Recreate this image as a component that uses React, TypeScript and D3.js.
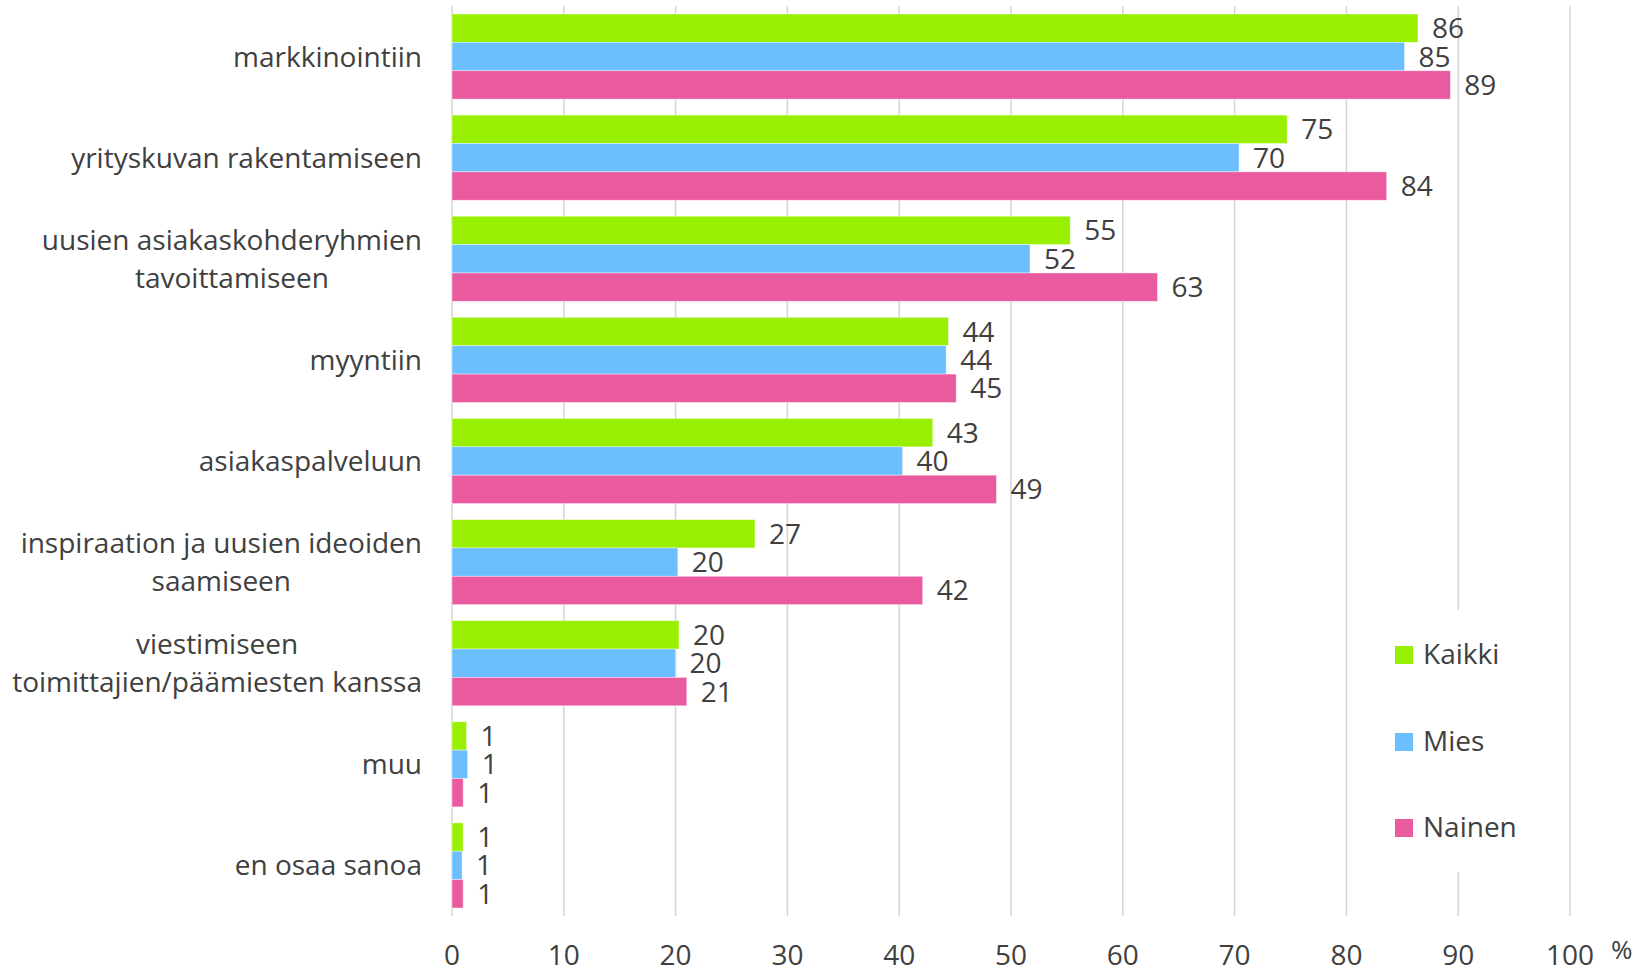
import React, { useEffect, useRef } from 'react';
import * as d3 from 'd3';

const categories = [
  'markkinointiin',
  'yrityskuvan rakentamiseen',
  'uusien asiakaskohderyhmien\ntavoittamiseen',
  'myyntiin',
  'asiakaspalveluun',
  'inspiraation ja uusien ideoiden\nsaamiseen',
  'viestimiseen\ntoimittajien/päämiesten kanssa',
  'muu',
  'en osaa sanoa',
];
const seriesNames = ['Kaikki', 'Mies', 'Nainen'];
const kaikki = [86.4, 74.7, 55.3, 44.4, 43.0, 27.1, 20.3, 1.3, 1.0];
const mies = [85.2, 70.4, 51.7, 44.2, 40.3, 20.2, 20.0, 1.4, 0.9];
const nainen = [89.3, 83.6, 63.1, 45.1, 48.7, 42.1, 21.0, 1.0, 1.0];
const seriesColors = ['#99ef00', '#6bbfff', '#ea5a9f'];
const xTicks = [0, 10, 20, 30, 40, 50, 60, 70, 80, 90, 100];

const W = 1652;
const H = 970;
const FONT = "'Open Sans', 'Noto Sans', sans-serif";
const TEXT = '#404040';

export default function App() {
  const ref = useRef<SVGSVGElement | null>(null);

  useEffect(() => {
    const svg = d3.select(ref.current);
    svg.selectAll('*').remove();

    const values = [kaikki, mies, nainen];
    const x = d3.scaleLinear().domain([0, 100]).range([452, 1570]);
    const y0 = d3.scaleBand<string>().domain(categories).range([6, 916]).padding(0);
    const step = y0.bandwidth();
    const y1 = d3.scaleBand<string>().domain(seriesNames).range([8, step - 8]).padding(0);

    // gridlines
    svg.append('g')
      .selectAll('line')
      .data(xTicks)
      .join('line')
      .attr('x1', (d) => x(d))
      .attr('x2', (d) => x(d))
      .attr('y1', 6)
      .attr('y2', 916)
      .attr('stroke', '#d4d4d4')
      .attr('stroke-width', 1.5);

    // legend background (covers gridline)
    svg.append('rect')
      .attr('x', 1385)
      .attr('y', 610)
      .attr('width', 150)
      .attr('height', 262)
      .attr('fill', '#ffffff');

    // bars
    const groups = svg.append('g')
      .selectAll('g')
      .data(categories)
      .join('g')
      .attr('transform', (d) => `translate(0,${y0(d)})`);

    seriesNames.forEach((s, si) => {
      groups.append('rect')
        .attr('x', x(0))
        .attr('y', y1(s)!)
        .attr('width', (_d, i) => x(values[si][i]) - x(0))
        .attr('height', y1.bandwidth())
        .attr('fill', seriesColors[si])
        .attr('stroke', '#ffffff')
        .attr('stroke-opacity', 0.5)
        .attr('stroke-width', 0.8);
      groups.append('text')
        .attr('x', (_d, i) => x(values[si][i]) + 14)
        .attr('y', y1(s)! + y1.bandwidth() / 2 + 10)
        .attr('font-family', FONT)
        .attr('font-size', 28)
        .attr('fill', TEXT)
        .text((_d, i) => String(Math.round(values[si][i])));
    });

    // category labels
    const right = 422;
    const lineH = 38;
    categories.forEach((c) => {
      const lines = c.split('\n');
      const cy = (y0(c) as number) + step / 2;
      const g = svg.append('g');
      const texts = lines.map((ln, li) =>
        g.append('text')
          .attr('font-family', FONT)
          .attr('font-size', 28)
          .attr('fill', TEXT)
          .attr('text-anchor', 'middle')
          .attr('y', cy + (li - (lines.length - 1) / 2) * lineH + 10)
          .text(ln)
      );
      const widths = texts.map((t) => (t.node() as SVGTextElement).getComputedTextLength());
      const maxW = d3.max(widths) || 0;
      texts.forEach((t) => t.attr('x', right - maxW / 2));
    });

    // x tick labels
    svg.append('g')
      .selectAll('text')
      .data(xTicks)
      .join('text')
      .attr('x', (d) => x(d))
      .attr('y', 965)
      .attr('text-anchor', 'middle')
      .attr('font-family', FONT)
      .attr('font-size', 28)
      .attr('fill', TEXT)
      .text((d) => String(d));

    svg.append('text')
      .attr('x', 1611)
      .attr('y', 959)
      .attr('font-family', FONT)
      .attr('font-size', 26)
      .attr('fill', TEXT)
      .text('%');

    // legend
    const legendY = [646, 733, 819];
    seriesNames.forEach((s, si) => {
      svg.append('rect')
        .attr('x', 1395)
        .attr('y', legendY[si])
        .attr('width', 18)
        .attr('height', 18)
        .attr('fill', seriesColors[si]);
      svg.append('text')
        .attr('x', 1423)
        .attr('y', legendY[si] + 18)
        .attr('font-family', FONT)
        .attr('font-size', 28)
        .attr('fill', TEXT)
        .text(s);
    });
  }, []);

  return (
    <svg
      ref={ref}
      width={W}
      height={H}
      viewBox={`0 0 ${W} ${H}`}
      style={{ position: 'absolute', left: 0, top: 0, background: '#ffffff' }}
    />
  );
}
